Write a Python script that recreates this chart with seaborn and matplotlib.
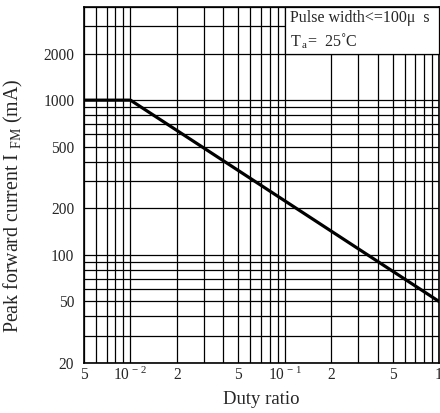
import matplotlib
matplotlib.use("Agg")
import matplotlib.pyplot as plt
from matplotlib.patches import Rectangle
import seaborn as sns
import pandas as pd

# Data
duty_ratio = [0.005, 0.01, 1.0]
peak_current_mA = [1000, 1000, 50]
x_tick_values = [0.005, 0.01, 0.02, 0.05, 0.1, 0.2, 0.5, 1.0]
x_tick_labels = ["5", r"$10^{\,-\,2}$", "2", "5", r"$10^{\,-\,1}$", "2", "5", "1"]
y_tick_values = [20, 50, 100, 200, 500, 1000, 2000]
y_tick_labels = ["20", "50", "100", "200", "500", "1000", "2000"]

sns.set_style("white")
plt.rcParams["font.family"] = ["Liberation Serif", "DejaVu Serif"]
plt.rcParams["mathtext.fontset"] = "custom"
plt.rcParams["mathtext.rm"] = "Liberation Serif"
plt.rcParams["mathtext.it"] = "Liberation Serif:italic"
plt.rcParams["mathtext.bf"] = "Liberation Serif:bold"

df = pd.DataFrame({"duty": duty_ratio, "current": peak_current_mA})

fig = plt.figure(figsize=(4.40, 4.13), dpi=100)
ax = fig.add_axes([84 / 440, 50 / 413, 355 / 440, 356 / 413])

sns.lineplot(data=df, x="duty", y="current", ax=ax, color="black",
             linewidth=2.3, zorder=5)

ax.set_xscale("log")
ax.set_yscale("log")
ax.set_xlim(0.005, 1.0)
ax.set_ylim(20, 4000)

ax.set_xticks(x_tick_values)
ax.set_xticklabels(x_tick_labels, fontsize=11.2)
ax.set_yticks(y_tick_values)
ax.set_yticklabels(y_tick_labels, fontsize=11.2)
ax.set_xticks([v * m for v in [0.001, 0.01, 0.1] for m in range(1, 10)
               if 0.005 <= v * m <= 1.0], minor=True)
ax.set_yticks([v * m for v in [10, 100, 1000] for m in range(1, 10)
               if 20 <= v * m <= 4000], minor=True)
ax.grid(True, which="both", color="black", linewidth=0.9)
ax.tick_params(which="both", length=0)
ax.tick_params(axis="x", which="both", pad=3)
ax.tick_params(axis="y", which="both", pad=7)

for s in ax.spines.values():
    s.set_color("black")
    s.set_linewidth(1.2)

ax.set_xlabel("Duty ratio", fontsize=13.5, labelpad=5)
ax.set_ylabel(r"Peak forward current I $_{\rm FM}$ (mA)", fontsize=14.3)
ax.yaxis.set_label_coords(-0.165, 0.44)

# Condition box
ax.add_patch(Rectangle((0.1, 2000), 0.9, 2000, transform=ax.transData,
                       facecolor="white", edgecolor="black", linewidth=0.9,
                       zorder=6, clip_on=False))
ax.text(0.108, 3420, "Pulse width<=100μ  s", fontsize=11.5, va="center",
        ha="left", zorder=7)
ax.text(0.108, 2400, r"T$\,_{\rm a}$=  25˚C", fontsize=11.5, va="center",
        ha="left", zorder=7)

fig.savefig("out.png", dpi=100)
